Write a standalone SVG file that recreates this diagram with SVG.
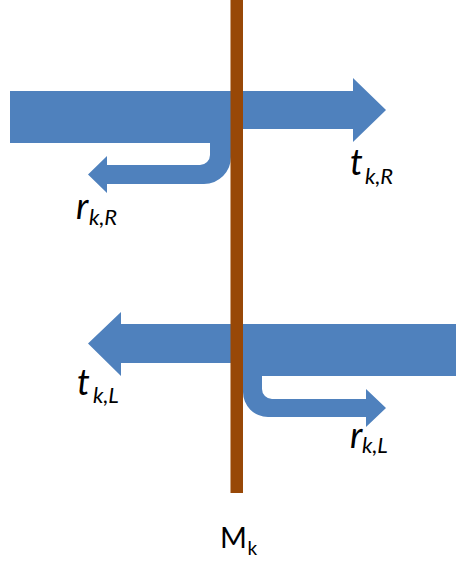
<svg xmlns="http://www.w3.org/2000/svg" width="456" height="567" viewBox="0 0 456 567">
  <style>
    .flow { fill: #4f81bd; stroke: none; }
    .wall { fill: #984807; }
    .sym { font-family: Lato, "Liberation Sans", sans-serif; font-style: italic; font-size: 36px; fill: #000; }
    .sub { font-family: Lato, "Liberation Sans", sans-serif; font-style: italic; font-size: 22px; fill: #000; }
    .name { font-family: Lato, "Liberation Sans", sans-serif; font-size: 29px; fill: #000; }
    .name-sub { font-family: Lato, "Liberation Sans", sans-serif; font-size: 19px; fill: #000; }
  </style>

  <!-- wave travelling right: transmitted part continues, reflected part bends back left -->
  <g id="flow-from-left">
    <path class="flow" d="M10,91 H353 V78 L386,110 L353,142 V129 H231 V157 A27,27 0 0 1 204,184 H107 V193 L88,174.5 L107,156 V165 H200 A10,10 0 0 0 210,155 V143 H10 Z"/>
  </g>

  <!-- wave travelling left: transmitted part continues, reflected part bends back right -->
  <g id="flow-from-right">
    <path class="flow" d="M456,324 V376 H262 V389 A10,10 0 0 0 272,399 H366 V389 L386,408 L366,427 V417 H268 A25,25 0 0 1 243,392 V363 H121 V376 L88,343.5 L121,312 V324 Z"/>
  </g>

  <!-- interface M_k -->
  <g id="interface">
    <rect class="wall" x="230.5" y="0" width="12.5" height="493"/>
    <text class="name" x="220" y="548">M</text>
    <text class="name-sub" x="247.5" y="555">k</text>
  </g>

  <g id="label-t-kR">
    <text class="sym" x="350" y="175">t</text>
    <text class="sub" x="365" y="184">k,R</text>
  </g>

  <g id="label-r-kR">
    <text class="sym" x="76" y="219">r</text>
    <text class="sub" x="89" y="225">k,R</text>
  </g>

  <g id="label-t-kL">
    <text class="sym" x="77" y="395">t</text>
    <text class="sub" x="93" y="403">k,L</text>
  </g>

  <g id="label-r-kL">
    <text class="sym" x="350" y="448">r</text>
    <text class="sub" x="362" y="453">k,L</text>
  </g>
</svg>
